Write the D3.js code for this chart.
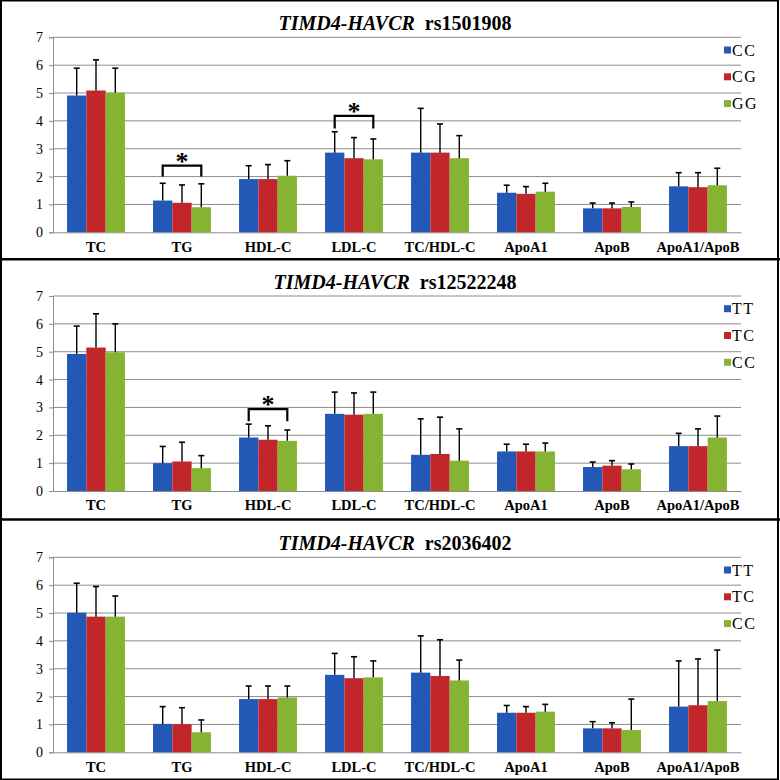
<!DOCTYPE html>
<html><head><meta charset="utf-8">
<script src="https://cdn.jsdelivr.net/npm/d3@7"></script>
<style>html,body{margin:0;padding:0;background:#fff;}svg{display:block;}
svg text{font-family:"Liberation Serif","Times New Roman",Times,"DejaVu Serif",serif !important;}
</style>
</head><body>
<script>
const categories = ["TC","TG","HDL-C","LDL-C","TC/HDL-C","ApoA1","ApoB","ApoA1/ApoB"];
const yTicks = [0,1,2,3,4,5,6,7];

const titles = ["rs1501908","rs12522248","rs2036402"];
const genotypes1 = ["CC","CG","GG"];
const genotypes2 = ["TT","TC","CC"];
const genotypes3 = ["TT","TC","CC"];

// Panel 1 means and upper error (SD)
const p1Mean = [
  [4.91,1.14,1.91,2.86,2.86,1.42,0.86,1.65],
  [5.09,1.06,1.91,2.66,2.86,1.38,0.86,1.62],
  [5.01,0.90,2.03,2.62,2.66,1.46,0.91,1.69]];
const p1Err = [
  [0.98,0.62,0.48,0.75,1.59,0.27,0.19,0.49],
  [1.10,0.64,0.52,0.74,1.03,0.26,0.19,0.52],
  [0.88,0.84,0.54,0.73,0.81,0.30,0.18,0.61]];
// Panel 2
const p2Mean = [
  [4.92,1.00,1.92,2.77,1.30,1.42,0.86,1.61],
  [5.15,1.06,1.84,2.74,1.33,1.42,0.91,1.61],
  [4.98,0.82,1.80,2.77,1.09,1.42,0.78,1.92]];
const p2Err = [
  [1.00,0.60,0.48,0.78,1.29,0.26,0.18,0.46],
  [1.21,0.69,0.50,0.78,1.32,0.26,0.18,0.62],
  [1.02,0.45,0.39,0.78,1.14,0.30,0.19,0.77]];
// Panel 3
const p3Mean = [
  [5.01,1.02,1.91,2.78,2.86,1.42,0.86,1.64],
  [4.87,1.01,1.91,2.66,2.74,1.42,0.86,1.69],
  [4.87,0.72,1.97,2.69,2.58,1.46,0.80,1.84]];
const p3Err = [
  [1.06,0.62,0.47,0.77,1.32,0.26,0.24,1.64],
  [1.08,0.59,0.47,0.77,1.30,0.22,0.20,1.66],
  [0.74,0.44,0.41,0.59,0.73,0.26,1.11,1.83]];

// significance brackets: [panel, category, top value, bottom value]
const bracketPanel = [0,0,1];
const bracketCat = ["TG","LDL-C","HDL-C"];
const bracketTop = [2.39,4.18,2.94];
const bracketBottom = [2.00,3.73,2.50];

const colors = ["#2358B6","#C0262A","#86B432"];

const W = 780, H = 780;
const svg = d3.select("body").append("svg").attr("width",W).attr("height",H);
svg.append("rect").attr("width",W).attr("height",H).attr("fill","#fff");

const panels = [
  {off:0, mean:p1Mean, err:p1Err, geno:genotypes1, title:titles[0]},
  {off:258.7, mean:p2Mean, err:p2Err, geno:genotypes2, title:titles[1]},
  {off:520, mean:p3Mean, err:p3Err, geno:genotypes3, title:titles[2]}];

const x = d3.scaleBand().domain(categories).range([53,741]).padding(0);
const barW = 19.3;
const xs = d3.scaleBand().domain([0,1,2]).range([-1.5*barW, 1.5*barW]);
const SERIF = "'Liberation Serif','Times New Roman',serif";

panels.forEach((p,pi) => {
  const g = svg.append("g").attr("transform",`translate(0,${p.off})`);
  const y = d3.scaleLinear().domain([0,7]).range([232.3,37.3]);

  // gridlines
  g.append("g").selectAll("line").data(yTicks.slice(1)).join("line")
    .attr("x1",53).attr("x2",741).attr("y1",d=>y(d)).attr("y2",d=>y(d))
    .attr("stroke","#8c8c8c").attr("stroke-width",1);

  // y axis
  const ya = g.append("g").attr("transform","translate(53,0)")
    .call(d3.axisLeft(y).tickValues(yTicks).tickSize(4).tickPadding(6).tickFormat(d3.format("d")));
  ya.attr("font-family",SERIF);
  ya.select(".domain").attr("stroke","#8c8c8c");
  ya.selectAll(".tick line").attr("stroke","#8c8c8c");
  ya.selectAll("text").attr("font-size",14).attr("fill","#000");

  // x axis line
  const xa = g.append("g").attr("transform",`translate(0,${y(0)})`)
    .call(d3.axisBottom(x).tickSize(0).tickPadding(9));
  xa.attr("font-family",SERIF);
  xa.select(".domain").attr("stroke","#8c8c8c");
  xa.selectAll("text").attr("font-size",14.5)
    .attr("font-weight","bold").attr("fill","#000");

  // bars
  p.mean.forEach((series,si) => {
    const gs = g.append("g");
    gs.selectAll("rect").data(categories).join("rect")
      .attr("x",(c)=>x(c)+x.bandwidth()/2+xs(si))
      .attr("width",barW)
      .attr("y",(c,i)=>y(series[i]))
      .attr("height",(c,i)=>y(0)-y(series[i]))
      .attr("fill",colors[si]);
    // error bars
    const cx = c => x(c)+x.bandwidth()/2+xs(si)+barW/2;
    gs.selectAll("line.v").data(categories).join("line").attr("class","v")
      .attr("x1",cx).attr("x2",cx)
      .attr("y1",(c,i)=>y(series[i])).attr("y2",(c,i)=>y(series[i]+p.err[si][i]))
      .attr("stroke","#000").attr("stroke-width",1.4);
    gs.selectAll("line.h").data(categories).join("line").attr("class","h")
      .attr("x1",c=>cx(c)-3).attr("x2",c=>cx(c)+3)
      .attr("y1",(c,i)=>y(series[i]+p.err[si][i])).attr("y2",(c,i)=>y(series[i]+p.err[si][i]))
      .attr("stroke","#000").attr("stroke-width",1.6);
  });

  // brackets
  bracketPanel.forEach((bp,bi) => {
    if (bp !== pi) return;
    const c = bracketCat[bi];
    const xl = x(c)+x.bandwidth()/2+xs(0)+barW/2;
    const xr = x(c)+x.bandwidth()/2+xs(2)+barW/2;
    const yt = y(bracketTop[bi]), yb = y(bracketBottom[bi]);
    g.append("path").attr("d",`M${xl},${yb}V${yt}H${xr}V${yb}`)
      .attr("fill","none").attr("stroke","#000").attr("stroke-width",2.2);
    g.append("text").attr("x",(xl+xr)/2).attr("y",yt+4).attr("text-anchor","middle")
      .attr("font-family",SERIF).attr("font-size",26).attr("font-weight","bold").attr("fill","#000").text("*");
  });

  // title
  const t = g.append("text").attr("x",395).attr("y",30).attr("text-anchor","middle")
    .attr("font-family",SERIF).attr("font-size",20).attr("font-weight","bold").attr("fill","#000");
  t.append("tspan").attr("font-style","italic").text("TIMD4-HAVCR");
  t.append("tspan").text("\u00a0\u00a0" + p.title);

  // legend
  const lg = g.append("g");
  p.geno.forEach((name,si) => {
    const ly = 50 + si*26.8;
    lg.append("rect").attr("x",724).attr("y",ly-3.5).attr("width",7).attr("height",7).attr("fill",colors[si]);
    lg.append("text").attr("x",732).attr("y",ly+5.5).attr("font-family",SERIF)
      .attr("font-size",16).attr("letter-spacing",1.5).attr("fill","#000").text(name);
  });
});

// panel separators and outer border
[259.3, 519.5].forEach(yy => {
  svg.append("line").attr("x1",0).attr("x2",W).attr("y1",yy).attr("y2",yy).attr("stroke","#000").attr("stroke-width",2.6);
});
svg.append("rect").attr("x",1).attr("y",0.5).attr("width",W-3).attr("height",H-1)
  .attr("fill","none").attr("stroke","#000").attr("stroke-width",2);
</script>
</body></html>
